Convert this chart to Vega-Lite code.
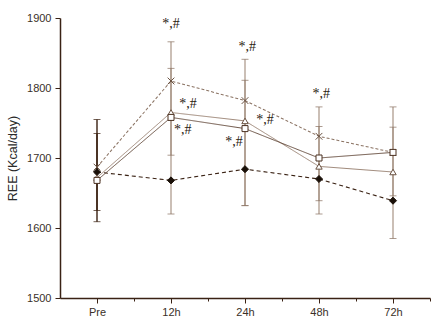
{
  "$schema": "https://vega.github.io/schema/vega-lite/v6.json",
  "width": 370,
  "height": 280,
  "autosize": "none",
  "padding": {"left": 60, "top": 18, "right": 10, "bottom": 20},
  "background": "white",
  "config": {"view": {"stroke": null}, "font": "Liberation Sans"},
  "datasets": {
    "series": [
      {"group": "D", "time": "Pre", "t": 0, "value": 1680},
      {"group": "D", "time": "12h", "t": 1, "value": 1668},
      {"group": "D", "time": "24h", "t": 2, "value": 1684},
      {"group": "D", "time": "48h", "t": 3, "value": 1670},
      {"group": "D", "time": "72h", "t": 4, "value": 1639},
      {"group": "X", "time": "Pre", "t": 0, "value": 1687},
      {"group": "X", "time": "12h", "t": 1, "value": 1810},
      {"group": "X", "time": "24h", "t": 2, "value": 1782},
      {"group": "X", "time": "48h", "t": 3, "value": 1731},
      {"group": "X", "time": "72h", "t": 4, "value": 1708},
      {"group": "T", "time": "Pre", "t": 0, "value": 1672},
      {"group": "T", "time": "12h", "t": 1, "value": 1765},
      {"group": "T", "time": "24h", "t": 2, "value": 1753},
      {"group": "T", "time": "48h", "t": 3, "value": 1688},
      {"group": "T", "time": "72h", "t": 4, "value": 1680},
      {"group": "S", "time": "Pre", "t": 0, "value": 1668},
      {"group": "S", "time": "12h", "t": 1, "value": 1758},
      {"group": "S", "time": "24h", "t": 2, "value": 1742},
      {"group": "S", "time": "48h", "t": 3, "value": 1700},
      {"group": "S", "time": "72h", "t": 4, "value": 1708}
    ],
    "errors": [
      {"t": 0, "lo": 1609, "hi": 1755},
      {"t": 0, "lo": 1625, "hi": 1735},
      {"t": 1, "lo": 1620, "hi": 1866},
      {"t": 1, "lo": 1704, "hi": 1828},
      {"t": 2, "lo": 1632, "hi": 1841},
      {"t": 2, "lo": 1632, "hi": 1811},
      {"t": 3, "lo": 1620, "hi": 1773},
      {"t": 3, "lo": 1639, "hi": 1745},
      {"t": 4, "lo": 1585, "hi": 1773},
      {"t": 4, "lo": 1646, "hi": 1744}
    ],
    "notes": [
      {"x": 1.0, "y": 1891, "label": "*,#"},
      {"x": 1.23, "y": 1777, "label": "*,#"},
      {"x": 1.16, "y": 1740, "label": "*,#"},
      {"x": 2.03, "y": 1859, "label": "*,#"},
      {"x": 2.27, "y": 1754, "label": "*,#"},
      {"x": 1.85, "y": 1723, "label": "*,#"},
      {"x": 3.03, "y": 1791, "label": "*,#"}
    ]
  },
  "layer": [
    {
      "data": {"name": "errors"},
      "mark": {"type": "rule"},
      "encoding": {
        "x": {
          "field": "t", "type": "quantitative",
          "scale": {"domain": [-0.5, 4.5], "nice": false, "zero": false},
          "axis": {
            "values": [0, 0.5, 1, 1.5, 2, 2.5, 3, 3.5, 4, 4.5],
            "labelExpr": "datum.value % 1 === 0 ? ['Pre','12h','24h','48h','72h'][datum.value] : ''",
            "title": null,
            "grid": false,
            "domainColor": "#3a2214",
            "domainWidth": 1.5,
            "tickColor": "#3a2214",
            "tickWidth": 1,
            "tickSize": {"condition": {"test": "datum.value % 1 === 0", "value": 5}, "value": 3},
            "labelColor": "#3a3028",
            "labelFontSize": 11,
            "labelPadding": 3,
            "labelFlush": false
          }
        },
        "y": {
          "field": "lo", "type": "quantitative",
          "scale": {"domain": [1500, 1900], "nice": false, "zero": false},
          "axis": {
            "values": [1500, 1550, 1600, 1650, 1700, 1750, 1800, 1850, 1900],
            "format": "d",
            "labelExpr": "datum.value % 100 === 0 ? datum.label : ''",
            "title": "REE (Kcal/day)",
            "titleFontSize": 12.5,
            "titleFontWeight": "normal",
            "titleColor": "#2a2a2a",
            "titlePadding": 7,
            "grid": false,
            "domainColor": "#3a2214",
            "domainWidth": 1.5,
            "tickColor": "#3a2214",
            "tickWidth": 1,
            "tickSize": {"condition": {"test": "datum.value % 100 === 0", "value": 5}, "value": 3},
            "labelColor": "#3a3028",
            "labelFontSize": 11,
            "labelPadding": 4,
            "labelFlush": false
          }
        },
        "y2": {"field": "hi"},
        "color": {"condition": {"test": "datum.t === 0", "value": "#3a2010"}, "value": "#a08a7a"},
        "strokeWidth": {"condition": {"test": "datum.t === 0", "value": 1.4}, "value": 1.1}
      }
    },
    {
      "data": {"name": "errors"},
      "mark": {"type": "point", "shape": "M-1,0L1,0", "size": 49, "filled": false, "strokeWidth": 1},
      "encoding": {
        "x": {"field": "t", "type": "quantitative"},
        "y": {"field": "lo", "type": "quantitative"},
        "color": {"condition": {"test": "datum.t === 0", "value": "#3a2010"}, "value": "#8a7262"}
      }
    },
    {
      "data": {"name": "errors"},
      "mark": {"type": "point", "shape": "M-1,0L1,0", "size": 49, "filled": false, "strokeWidth": 1},
      "encoding": {
        "x": {"field": "t", "type": "quantitative"},
        "y": {"field": "hi", "type": "quantitative"},
        "color": {"condition": {"test": "datum.t === 0", "value": "#3a2010"}, "value": "#8a7262"}
      }
    },
    {
      "data": {"name": "series"},
      "mark": {"type": "line"},
      "encoding": {
        "x": {"field": "t", "type": "quantitative"},
        "y": {"field": "value", "type": "quantitative"},
        "detail": {"field": "group"},
        "color": {"field": "group", "type": "nominal", "legend": null,
          "scale": {"domain": ["D", "X", "T", "S"], "range": ["#3a2214", "#8a7262", "#9a8474", "#5a4030"]}},
        "strokeDash": {"field": "group", "type": "nominal", "legend": null,
          "scale": {"domain": ["D", "X", "T", "S"], "range": [[4, 3], [3, 2], [1, 0], [1, 0]]}},
        "strokeWidth": {"field": "group", "type": "nominal", "legend": null,
          "scale": {"domain": ["D", "X", "T", "S"], "range": [1.1, 0.9, 0.9, 1.1]}}
      }
    },
    {
      "data": {"name": "series"},
      "mark": {"type": "point", "strokeWidth": 1, "opacity": 1},
      "encoding": {
        "x": {"field": "t", "type": "quantitative"},
        "y": {"field": "value", "type": "quantitative"},
        "shape": {"field": "group", "type": "nominal", "legend": null,
          "scale": {"domain": ["D", "X", "T", "S"], "range": ["diamond", "M-1,-1L1,1M-1,1L1,-1", "triangle-up", "square"]}},
        "stroke": {"field": "group", "type": "nominal", "legend": null,
          "scale": {"domain": ["D", "X", "T", "S"], "range": ["#1a1008", "#6a5242", "#6a5242", "#4a3020"]}},
        "fill": {"field": "group", "type": "nominal", "legend": null,
          "scale": {"domain": ["D", "X", "T", "S"], "range": ["#1a1008", "transparent", "white", "white"]}},
        "size": {"field": "group", "type": "nominal", "legend": null,
          "scale": {"domain": ["D", "X", "T", "S"], "range": [50, 36, 50, 45]}}
      }
    },
    {
      "data": {"name": "notes"},
      "mark": {"type": "text", "font": "Liberation Serif", "fontSize": 14, "color": "#2a1a10", "baseline": "middle", "align": "center"},
      "encoding": {
        "x": {"field": "x", "type": "quantitative"},
        "y": {"field": "y", "type": "quantitative"},
        "text": {"field": "label"}
      }
    }
  ]
}
